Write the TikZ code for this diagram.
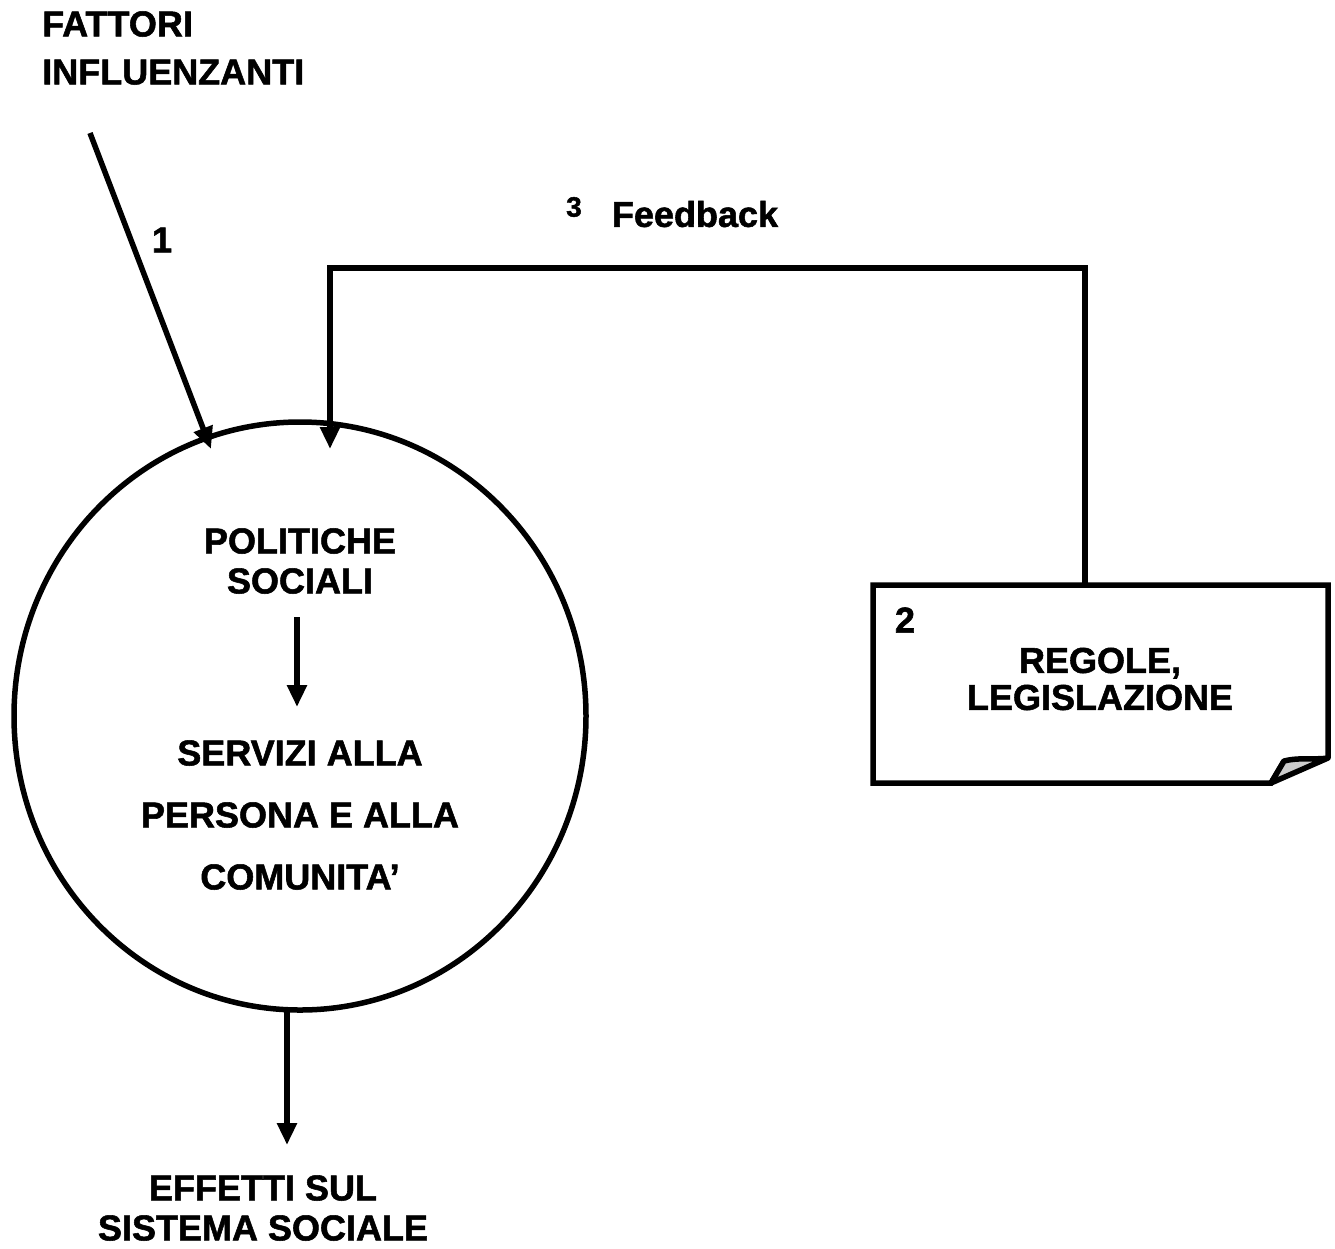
\documentclass[tikz,border=0pt]{standalone}
\usepackage{fontspec}
\setmainfont{Liberation Sans}
\newfontfamily\heavy[FakeBold=1.5]{Liberation Sans}
\usetikzlibrary{arrows.meta,shapes.geometric}
\begin{document}
\begin{tikzpicture}[x=1pt,y=-1pt,
  lw/.style={line width=5.5pt},
  tip/.style={-{Triangle[length=22pt,width=19pt]}},
  arr/.style={lw,tip},
  txt/.style={font=\heavy\bfseries\fontsize{36}{40}\selectfont,inner sep=0pt,align=center},
  num/.style={font=\heavy\bfseries\fontsize{36}{36}\selectfont,inner sep=0pt}]
\useasboundingbox (0,0) rectangle (1335,1248);
% ellipse
\node[lw,draw,ellipse,minimum width=572pt,minimum height=588pt,inner sep=0pt] (ell) at (300,716) {};
% texts
\node[txt,align=left,anchor=west,font=\heavy\bfseries\fontsize{36}{48}\selectfont] (fatt) at (42,48) {FATTORI\\INFLUENZANTI};
\node[txt] (pol) at (300,561) {POLITICHE\\SOCIALI};
\node[txt,font=\heavy\bfseries\fontsize{36}{62}\selectfont] (serv) at (300,815) {SERVIZI ALLA\\PERSONA E ALLA\\COMUNITA’};
\node[txt,font=\heavy\bfseries\fontsize{36}{37}\selectfont] (reg) at (1100,679) {REGOLE,\\LEGISLAZIONE};
\node[txt] (eff) at (263,1208) {EFFETTI SUL\\SISTEMA SOCIALE};
\node[num] (n1) at (162,240) {1};
\node[num,font=\heavy\bfseries\fontsize{28}{30}\selectfont] (n3) at (574,207) {3};
\node[txt] (fb) at (695,214) {Feedback};
\node[num] (n2) at (905,620) {2};
% note shape
\coordinate (nA) at (873,585);
\coordinate (nB) at (1328,585);
\coordinate (nC) at (1328,758);
\coordinate (nD) at (1271,783);
\coordinate (nE) at (873,783);
\coordinate (tipc) at (1284,761);
\draw[lw,line join=miter] (nC) -- (nB) -- (nA) -- (nE) -- (nD) -- (tipc);
\filldraw[lw,fill=gray!40,line join=round] (nD) -- (tipc) .. controls (1300,757) and (1315,760) .. (nC) -- cycle;
% connectors
\coordinate (a1s) at (90,133);
\coordinate (a1e) at (211,449);
\draw[arr] (a1s) -- (a1e);
\coordinate (fbs) at (1085,585);
\coordinate (fbe) at (330,449);
\draw[arr] (fbs) -- (1085,268) -- (330,268) -- (fbe);
\coordinate (ins) at (297,617);
\coordinate (ine) at (297,707);
\draw[arr] (ins) -- (ine);
\coordinate (bs) at (287,1010);
\coordinate (be) at (287,1145);
\draw[arr] (bs) -- (be);
\end{tikzpicture}
\end{document}
